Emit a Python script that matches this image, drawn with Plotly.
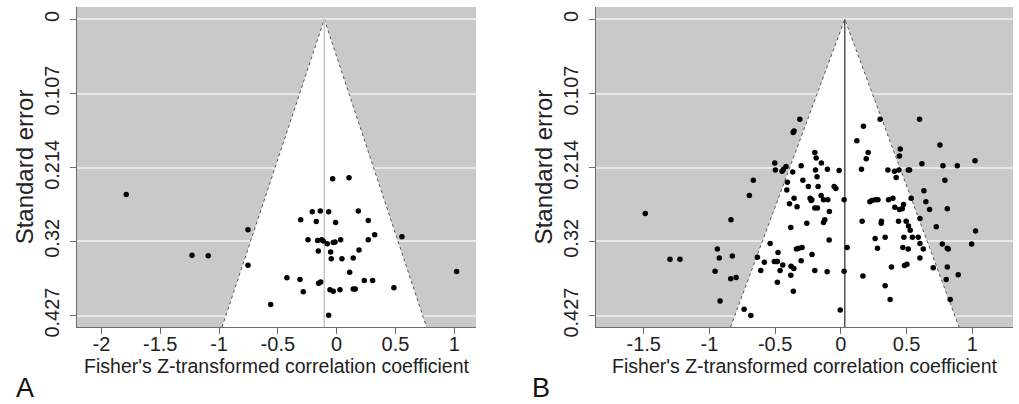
import plotly.graph_objects as go

# ---------------- data ----------------
# Panel A: Fisher's Z and standard error of each study
a_z = [-0.034, 0.105, -0.207, -0.139, -0.068, 0.184, -0.306, -0.173, -0.009, 0.269,
       -0.244, -0.162, -0.128, -0.114, -0.080, -0.029, -0.014, 0.034, 0.269, 0.323,
       0.555, -0.156, -0.051, 0.190, -0.046, 0.045, 0.141, 0.111, 1.020, -0.423,
       -0.312, -0.153, -0.136, 0.235, 0.306, -0.284, -0.057, -0.029, 0.028, 0.141,
       0.158, 0.487, -0.561, -0.068, -1.789, -0.754, -1.230, -1.092, -0.754]
a_se = [0.2297, 0.2283, 0.2773, 0.2764, 0.2773, 0.2764, 0.2888, 0.2913, 0.2927, 0.2898,
        0.3177, 0.3187, 0.3177, 0.3197, 0.3234, 0.3216, 0.3211, 0.3177, 0.3177, 0.3105,
        0.3133, 0.3341, 0.3355, 0.3326, 0.3451, 0.3451, 0.3442, 0.3644, 0.3634, 0.3725,
        0.3749, 0.3803, 0.3788, 0.3764, 0.3764, 0.3926, 0.3898, 0.3918, 0.3898, 0.3889,
        0.3889, 0.3869, 0.4110, 0.4264, 0.2524, 0.3033, 0.3399, 0.3408, 0.3544]

# Panel B
b_z = [-1.488, -1.300, -1.224,
       -0.312, -0.363, -0.356, -0.198, -0.188, -0.503, -0.148, -0.302, -0.417, -0.498,
       -0.437, -0.447, -0.366, -0.193, -0.102, -0.013, -0.181, -0.666, -0.289, -0.407,
       -0.247, -0.173, -0.411, -0.051, -0.038, -0.696, -0.150, -0.356, -0.234, -0.221,
       -0.226, -0.132, -0.099, 0.025, -0.391, -0.333, -0.198, -0.178, -0.087, -0.836,
       -0.122, -0.132, -0.259, -0.381, -0.089, -0.538, -0.940, -0.338, -0.320, -0.295,
       0.048, -0.478, -0.925, -0.826, -0.219, -0.635, -0.582, -0.506, -0.493, -0.483,
       -0.302, -0.442, -0.379, -0.358, -0.957, -0.838, -0.797, -0.609, -0.462, -0.381,
       -0.198, -0.104, 0.025, -0.483, -0.361, -0.919, -0.736, -0.685, -0.005,
       0.299, 0.599, 0.172, 0.122, 0.208, 0.193, 0.452, 0.446, 0.754, 0.617,
       0.777, 0.886, 1.021, 0.157, 0.358, 0.408, 0.442, 0.513, 0.523, 0.421,
       0.792, 0.632, 0.221, 0.236, 0.261, 0.282, 0.363, 0.396, 0.535, 0.647,
       0.411, 0.446, 0.477, 0.467, 0.675, 0.810, 0.162, 0.309, 0.307, 0.439,
       0.497, 0.515, 0.528, 0.602, 0.726, 1.025, 0.261, 0.337, 0.480, 0.545,
       0.589, 0.602, 0.279, 0.472, 0.513, 0.627, 0.772, 0.810, 0.817, 0.995,
       0.602, 0.385, 0.484, 0.503, 0.703, 0.810, 0.168, 0.802, 0.893, 0.337,
       0.375, 0.832]
b_se = [0.280, 0.346, 0.346,
        0.144, 0.163, 0.161, 0.192, 0.200, 0.207, 0.207, 0.211, 0.212, 0.217,
        0.216, 0.219, 0.220, 0.217, 0.216, 0.218, 0.227, 0.232, 0.232, 0.235,
        0.241, 0.241, 0.246, 0.241, 0.244, 0.254, 0.254, 0.258, 0.258, 0.260,
        0.261, 0.260, 0.260, 0.260, 0.266, 0.270, 0.272, 0.272, 0.277, 0.289,
        0.289, 0.293, 0.294, 0.300, 0.318, 0.323, 0.331, 0.331, 0.330, 0.329,
        0.329, 0.336, 0.344, 0.341, 0.339, 0.343, 0.350, 0.349, 0.349, 0.349,
        0.348, 0.354, 0.356, 0.359, 0.363, 0.374, 0.372, 0.362, 0.362, 0.369,
        0.362, 0.364, 0.363, 0.379, 0.392, 0.406, 0.418, 0.427, 0.419,
        0.144, 0.144, 0.154, 0.175, 0.192, 0.201, 0.187, 0.197, 0.181, 0.208,
        0.211, 0.211, 0.204, 0.216, 0.217, 0.219, 0.217, 0.217, 0.217, 0.228,
        0.232, 0.247, 0.263, 0.261, 0.260, 0.260, 0.260, 0.258, 0.258, 0.263,
        0.271, 0.274, 0.267, 0.273, 0.274, 0.273, 0.291, 0.291, 0.294, 0.291,
        0.291, 0.298, 0.304, 0.287, 0.299, 0.305, 0.316, 0.314, 0.314, 0.314,
        0.314, 0.323, 0.330, 0.329, 0.331, 0.331, 0.324, 0.330, 0.331, 0.324,
        0.344, 0.357, 0.355, 0.353, 0.358, 0.357, 0.370, 0.375, 0.368, 0.384,
        0.404, 0.404]

a_pooled = -0.105
b_pooled = 0.03
se_max = 0.4435
se_top = -0.0178
z_crit = 1.96

y_tickvals = [0, 0.107, 0.214, 0.32, 0.427]
y_ticktext = ["0", "0.107", "0.214", "0.32", "0.427"]
a_xticks = [-2, -1.5, -1, -0.5, 0, 0.5, 1]
b_xticks = [-1.5, -1, -0.5, 0, 0.5, 1]
a_xrange = [-2.208, 1.185]
b_xrange = [-1.863, 1.31]

x_title = "Fisher's Z-transformed correlation coefficient"
y_title = "Standard error"

W, H = 1019, 404
FONT = "Liberation Sans, Arial, sans-serif"
BG = "#c9c9c9"
GRID = "#e9e9e9"
AX = "#6e6e6e"

fig = go.Figure()


def add_panel(xa, ya, z, se, pooled, center_color):
    left = pooled - z_crit * se_max
    right = pooled + z_crit * se_max
    # white pseudo-confidence funnel
    fig.add_trace(go.Scatter(x=[left, pooled, right, left], y=[se_max, 0, se_max, se_max],
                             mode="lines", fill="toself", fillcolor="white",
                             line=dict(width=0, color="white"), hoverinfo="skip",
                             xaxis=xa, yaxis=ya, showlegend=False))
    fig.add_trace(go.Scatter(x=[left, pooled, right], y=[se_max, 0, se_max],
                             mode="lines", line=dict(width=1, color="#555", dash="dot"),
                             hoverinfo="skip", xaxis=xa, yaxis=ya, showlegend=False))
    fig.add_trace(go.Scatter(x=[pooled, pooled], y=[0, se_max], mode="lines",
                             line=dict(width=1.5, color=center_color), hoverinfo="skip",
                             xaxis=xa, yaxis=ya, showlegend=False))
    fig.add_trace(go.Scatter(x=z, y=se, mode="markers",
                             marker=dict(size=5.5, color="black"),
                             xaxis=xa, yaxis=ya, showlegend=False))


add_panel("x", "y", a_z, a_se, a_pooled, "#c4c4c4")
add_panel("x2", "y2", b_z, b_se, b_pooled, "#555555")

ydom = [1 - 327 / H, 1 - 7 / H]
xdomA = [77 / W, 476 / W]
xdomB = [596 / W, 1013 / W]

common_x = dict(showline=True, linecolor=AX, linewidth=1, ticks="outside", ticklen=6,
                tickcolor=AX, tickfont=dict(size=20, color="#222", family=FONT),
                ticklabelstandoff=-7,
                showgrid=False, zeroline=False, automargin=False,
                title=dict(text=x_title, font=dict(size=19.5, color="#222", family=FONT),
                           standoff=0))
common_y = dict(showline=True, linecolor=AX, linewidth=1, ticks="outside", ticklen=6,
                tickcolor=AX, tickfont=dict(size=20, color="#222", family=FONT),
                tickangle=-90, tickvals=y_tickvals, ticktext=y_ticktext,
                ticklabelstandoff=3, automargin=False,
                showgrid=True, gridcolor=GRID, gridwidth=1.5, zeroline=False,
                range=[se_max, se_top],
                title=dict(text=y_title, font=dict(size=24, color="#222", family=FONT),
                           standoff=0))

fig.update_layout(
    width=W, height=H, autosize=False,
    margin=dict(l=0, r=0, t=0, b=0),
    paper_bgcolor="white", plot_bgcolor=BG,
    font=dict(family=FONT, color="#222"),
    xaxis=dict(domain=xdomA, anchor="y", range=a_xrange, tickvals=a_xticks,
               ticktext=[f"{v:g}" for v in a_xticks], **common_x),
    yaxis=dict(domain=ydom, anchor="x", **common_y),
    xaxis2=dict(domain=xdomB, anchor="y2", range=b_xrange, tickvals=b_xticks,
                ticktext=[f"{v:g}" for v in b_xticks], **common_x),
    yaxis2=dict(domain=ydom, anchor="x2", **common_y),
    annotations=[
        dict(text="A", x=25 / W, y=1 - 388 / H, xref="paper", yref="paper",
             xanchor="center", yanchor="middle", showarrow=False,
             font=dict(size=27, color="#111", family=FONT)),
        dict(text="B", x=541 / W, y=1 - 388 / H, xref="paper", yref="paper",
             xanchor="center", yanchor="middle", showarrow=False,
             font=dict(size=27, color="#111", family=FONT)),
    ],
)

fig.write_html("out.html", config={"displayModeBar": False},
               post_script="document.body.style.margin='0px';")
